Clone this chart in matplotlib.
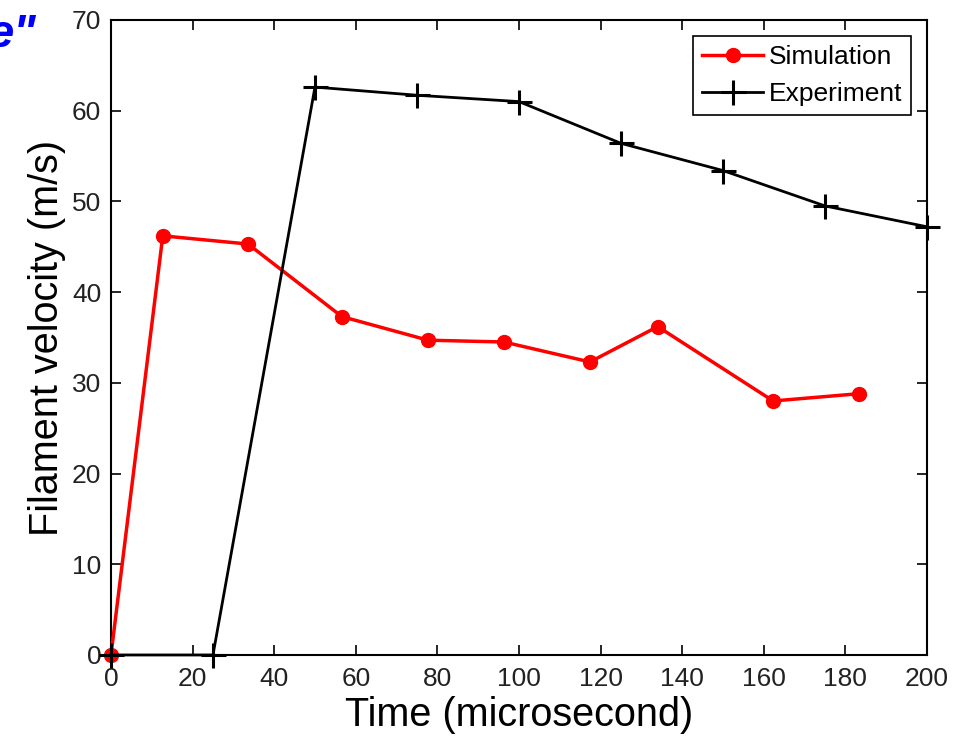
import matplotlib.pyplot as plt

plt.rcParams['font.family'] = ['Liberation Sans', 'DejaVu Sans']

# simulation (red dots)
sim_t = [0, 12.7, 33.6, 56.6, 77.7, 96.3, 117.4, 134.0, 162.3, 183.3]
sim_v = [0, 46.2, 45.3, 37.3, 34.7, 34.5, 32.3, 36.2, 28.0, 28.8]

# experiment (black crosses)
exp_t = [0, 25, 50, 75, 100, 125, 150, 175, 200]
exp_v = [0, 0, 62.6, 61.7, 61.0, 56.4, 53.4, 49.5, 47.2]

fig = plt.figure(figsize=(9.64, 7.39), dpi=100)
ax = fig.add_axes([0.1151, 0.1137, 0.8465, 0.8593])

ax.plot(sim_t, sim_v, color='#ff0000', lw=2.5, marker='o', ms=10,
        label='Simulation', clip_on=False, zorder=3)
ax.plot(exp_t, exp_v, color='black', lw=2, marker='+', ms=18, mew=2.2,
        label='Experiment', clip_on=False, zorder=4)

ax.set_xlim(0, 200)
ax.set_ylim(0, 70)
ax.set_xticks(range(0, 201, 20))
ax.set_yticks(range(0, 71, 10))
ax.tick_params(direction='in', top=True, right=True, labelsize=19,
               length=7, width=1.2, labelcolor='#222222')
ax.tick_params(axis='x', pad=9)
ax.tick_params(axis='y', pad=7)
for s in ax.spines.values():
    s.set_linewidth(1.5)

ax.set_xlabel('Time (microsecond)', fontsize=28.5, labelpad=3)
ax.set_ylabel('Filament velocity (m/s)', fontsize=28.5, labelpad=4)

leg = ax.legend(loc='upper right', fontsize=19, fancybox=False,
                edgecolor='black', framealpha=1, handlelength=2.3,
                borderaxespad=0.6, handletextpad=0.2, borderpad=0.35,
                labelspacing=0.5)
leg.get_frame().set_linewidth(1.2)

# fragment of slide title cut off at the left edge
fig.text(0.038, 0.953, 'e"', color='#0000ff', fontsize=34, style='italic',
         weight='bold', ha='right', va='center')

fig.savefig('out.png', dpi=100)
